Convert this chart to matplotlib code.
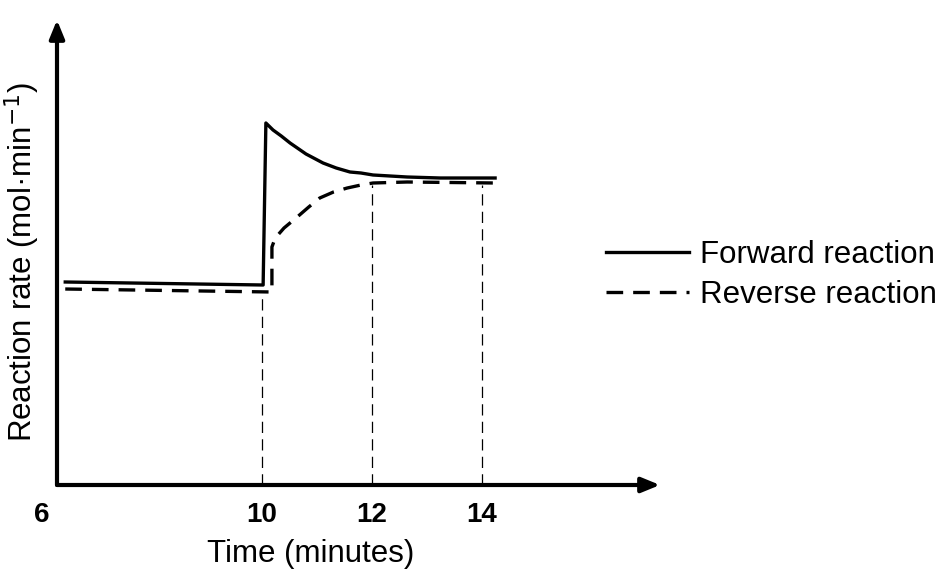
import matplotlib.pyplot as plt

plt.rcParams['font.family'] = ['Liberation Sans', 'DejaVu Sans']

# values (time in minutes, rate in arbitrary units)
fwd_t = [6.42, 10.02, 10.07, 10.2, 10.35, 10.51, 10.8, 11.11, 11.35, 11.6, 11.8,
         12.02, 12.64, 13.24, 14.24]
fwd_r = [2.03, 2.0, 3.62, 3.55, 3.49, 3.42, 3.31, 3.22, 3.17, 3.13, 3.12,
         3.1, 3.08, 3.07, 3.07]
rev_t = [6.42, 10.18, 10.18, 10.24, 10.4, 10.64, 10.85, 11.05, 11.3, 11.55,
         11.8, 12.02, 12.64, 14.24]
rev_r = [1.96, 1.93, 2.38, 2.47, 2.57, 2.68, 2.78, 2.87, 2.93, 2.97,
         3.0, 3.02, 3.03, 3.02]
guide_t = [10.0, 12.0, 14.0]
guide_top = [1.94, 3.0, 3.0]
tick_vals = [6, 10, 12, 14]
tick_labels = ["6", "10", "12", "14"]

fig = plt.figure(figsize=(9.49, 5.8), dpi=100)
ax = fig.add_axes([57 / 949, 95 / 580, 603 / 949, 465 / 580])
ax.set_xlim(6.27, 17.24)
ax.set_ylim(0, 4.65)
ax.axis("off")

# axes drawn as arrows
arrow = dict(arrowstyle="-|>,head_length=1.1,head_width=0.45",
             lw=3, color="black", shrinkA=0, shrinkB=0)
ax.annotate("", xy=(1.0, 0.0), xytext=(0.0, 0.0), xycoords="axes fraction",
            arrowprops=arrow)
ax.annotate("", xy=(0.0, 1.0), xytext=(0.0, 0.0), xycoords="axes fraction",
            arrowprops=arrow)

for t, top in zip(guide_t, guide_top):
    ax.plot([t, t], [0, top], color="black", lw=0.9, dashes=(9, 5))

ax.plot(fwd_t, fwd_r, color="black", lw=2.4, solid_joinstyle="round",
        label="Forward reaction")
ax.plot(rev_t, rev_r, color="black", lw=2.4, dashes=(5, 3),
        label="Reverse reaction")

for v, lab in zip(tick_vals, tick_labels):
    ax.text(v, -0.17, lab, ha="center", va="top", fontsize=20,
            fontweight="bold")

fig.text(311 / 949, 1 - 554 / 580, "Time (minutes)", ha="center",
         va="center", fontsize=22.5)
fig.text(22 / 949, 1 - 262 / 580, "Reaction rate (mol·min$^{-1}$)",
         ha="center", va="center", rotation=90, fontsize=22.5)

ax.legend(loc="center left", bbox_to_anchor=(606 / 949, 1 - 275 / 580),
          bbox_transform=fig.transFigure, frameon=False, fontsize=22.5,
          handlelength=2.65, handletextpad=0.35, labelspacing=0.3,
          borderpad=0, borderaxespad=0)

fig.savefig("out.png", dpi=100)
